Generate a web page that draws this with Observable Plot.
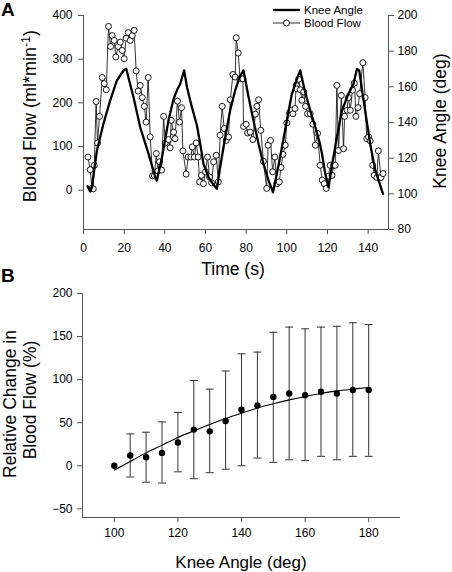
<!DOCTYPE html>
<html><head><meta charset="utf-8">
<script src="https://cdn.jsdelivr.net/npm/d3@7"></script>
<script src="https://cdn.jsdelivr.net/npm/@observablehq/plot@0.6"></script>
<style>
body{margin:0;background:#fff;}
#fig{position:relative;width:452px;height:572px;overflow:hidden;font-family:"Liberation Sans",Arial,sans-serif;color:#000;background:#fff;}
#fig svg{position:absolute;left:0;overflow:visible;}
.t{position:absolute;white-space:nowrap;line-height:1;transform:translate(-50%,-50%);}
.r{transform:translate(-50%,-50%) rotate(-90deg);}
.pl{position:absolute;font-weight:bold;font-size:19px;line-height:1.1;}
</style>
</head><body><div id="fig"></div>
<script>
// ---------- Panel A data ----------
const flowTime = [2.2,3.3,4.1,4.8,5.3,6.2,6.9,7.9,9.2,10.2,11.2,12.3,13.3,14.1,15.1,15.9,17.1,18.1,19.0,20.0,21.0,22.0,23.0,24.0,24.9,25.9,26.9,27.9,28.9,29.9,30.8,31.8,32.8,34.0,34.9,35.8,36.6,37.4,38.4,39.4,40.2,41.8,42.6,43.1,44.3,45.0,46.2,47.2,48.2,48.9,50.5,51.5,52.8,53.5,54.5,55.4,56.4,57.1,58.0,59.0,60.0,61.0,62.0,63.0,64.0,65.3,66.3,67.2,68.2,69.2,70.2,71.3,72.2,73.5,74.6,75.1,76.1,77.0,78.4,78.7,80.0,80.7,82.0,83.3,84.5,85.3,86.1,87.2,88.5,90.1,90.8,92.0,93.0,94.1,95.1,96.3,97.1,98.1,99.2,100.0,101.3,102.2,103.0,104.0,104.6,105.0,105.8,106.6,107.4,108.3,109.2,110.2,111.5,112.8,114.0,115.1,116.4,117.4,118.4,119.4,120.5,121.3,122.2,123.0,123.8,124.6,125.4,126.8,127.9,128.4,129.6,130.3,131.2,132.3,133.2,134.0,135.0,135.8,137.4,138.5,139.3,140.2,141.0,142.2,143.0,144.3,145.0,146.3,147.3];
const flowValue = [76,47,4,3,57,203,108,169,258,244,230,375,329,354,343,305,329,339,320,301,348,361,343,354,366,273,227,240,212,192,156,258,122,33,33,84,44,65,46,169,108,116,97,160,133,118,204,156,189,90,37,76,76,99,76,108,76,19,34,15,42,76,30,17,65,80,19,126,192,141,114,122,207,265,259,349,314,255,255,146,151,131,133,116,174,192,207,137,66,4,103,114,42,76,15,19,52,82,103,154,177,183,175,187,240,232,254,230,206,225,192,175,175,151,103,130,57,23,15,4,32,57,34,57,57,240,91,217,95,169,183,212,183,229,245,169,189,221,292,212,118,122,113,57,34,29,90,29,38];
const kneeTime = [2.0,3.3,4.1,6.6,9.8,13.1,16.4,19.7,21.0,24.6,27.9,32.0,35.3,36.1,38.6,41.8,44.3,45.9,47.6,49.5,50.9,53.3,55.8,57.4,59.0,61.5,63.6,65.6,67.2,69.7,72.1,74.6,76.7,78.7,81.2,83.6,86.1,88.5,91.0,93.2,95.1,97.6,100.0,102.5,105.0,106.6,109.0,111.5,114.0,116.1,117.3,118.9,120.5,122.2,124.6,127.1,130.3,132.8,134.5,135.6,138.5,141.0,143.5,147.3];
const kneeAngle = [104.3,101.3,103.7,124.3,139.3,152.3,163.5,169.2,170.1,154.2,137.3,122.4,109.3,107.5,120.5,141.1,153.3,157.9,161.7,169.2,159.8,148.6,138.3,128.0,116.8,109.3,105.6,102.8,114.9,131.7,146.7,157.9,165.4,169.2,154.2,141.1,128.0,116.8,107.5,100.9,111.2,126.1,141.1,156.1,164.5,169.2,157.0,146.7,137.4,128.9,122.4,111.2,103.7,115.9,131.7,146.7,156.1,161.7,170.1,169.2,146.7,128.0,113.1,100.0];
const timeTicks = [0,20,40,60,80,100,120,140];
const flowTicks = [0,100,200,300,400];
const angleTicks = [80,100,120,140,160,180,200];

// ---------- Panel B data ----------
const kneeAngleB = [100,105,110,115,120,125,130,135,140,145,150,155,160,165,170,175,180];
const relMean = [0,12,10,15,27,42,40,52,65,70,80,84,82,86,84,88,88];
const relLow = [null,-13,-19,-20,-7,-15,-8,-4,0,9,4,7,6,11,7,11,11];
const relHigh = [null,37,39,51,62,99,89,110,130,132,155,161,159,161,162,166,164];
const fitAngle = [100,105,110,115,120,125,130,135,140,145,150,155,160,165,170,175,180];
const fitValue = [-5,5,15,24,33,40.5,48,55,61,67,72,76.5,80.5,84,87,89,91];
const angleTicksB = [100,120,140,160,180];
const relTicks = [-50,0,50,100,150,200];

// ---------- build ----------
const fig = document.getElementById("fig");
const axisCol = "#555";
const font = '"Liberation Sans", Arial, sans-serif';
const baseStyle = {fontFamily: font, fontSize: "12px", background: "transparent", color: "#000", overflow: "visible"};

const flow = flowTime.map((t, i) => ({t, v: flowValue[i]}));
const knee = kneeTime.map((t, i) => ({t, a: kneeAngle[i]}));
const relB = kneeAngleB.map((a, i) => ({a, m: relMean[i], lo: relLow[i], hi: relHigh[i]}));
const errB = relB.filter(d => d.lo != null);
const fit = fitAngle.map((a, i) => ({a, v: fitValue[i]}));

const dimsA = {width: 452, height: 280, marginLeft: 83, marginRight: 64, marginTop: 15, marginBottom: 51};

const A1 = Plot.plot({
  ...dimsA, style: baseStyle,
  x: {domain: [0, 150]},
  y: {domain: [-90, 400]},
  marks: [
    Plot.axisX({ticks: timeTicks, tickSize: 5, tickPadding: 9, stroke: axisCol, label: null}),
    Plot.axisY({ticks: flowTicks, tickSize: 5, tickPadding: 6, stroke: axisCol, label: null}),
    Plot.ruleX([0], {stroke: axisCol}),
    Plot.ruleY([-90], {stroke: axisCol}),
    Plot.line(flow, {x: "t", y: "v", stroke: "#000", strokeWidth: 0.8}),
    Plot.dot(flow, {x: "t", y: "v", r: 3, fill: "#fff", stroke: "#000", strokeWidth: 0.9})
  ]
});
const A2 = Plot.plot({
  ...dimsA, style: baseStyle,
  x: {domain: [0, 150], axis: null},
  y: {domain: [80, 200]},
  marks: [
    Plot.axisY({anchor: "right", ticks: angleTicks, tickSize: 5, tickPadding: 4, stroke: axisCol, label: null}),
    Plot.ruleX([150], {stroke: axisCol}),
    Plot.line(knee, {x: "t", y: "a", stroke: "#000", strokeWidth: 2.3, strokeLinejoin: "round"})
  ]
});

const cap = {draw(ctx, size) { const r = Math.sqrt(size / Math.PI); ctx.moveTo(-r, 0); ctx.lineTo(r, 0); }};

const B = Plot.plot({
  width: 452, height: 292, marginLeft: 82, marginRight: 52, marginTop: 13, marginBottom: 55,
  style: baseStyle,
  x: {domain: [90, 190]},
  y: {domain: [-60, 200]},
  marks: [
    Plot.axisX({ticks: angleTicksB, tickSize: 5, tickPadding: 6, stroke: axisCol, label: null}),
    Plot.axisY({ticks: relTicks, tickSize: 5, tickPadding: 5, stroke: axisCol, label: null}),
    Plot.ruleX([90], {stroke: axisCol}),
    Plot.ruleY([-60], {stroke: axisCol}),
    Plot.ruleX(errB, {x: "a", y1: "lo", y2: "hi", stroke: "#333", strokeWidth: 1}),
    Plot.dot(errB, {x: "a", y: "hi", symbol: cap, r: 4, fill: "none", stroke: "#333", strokeWidth: 1}),
    Plot.dot(errB, {x: "a", y: "lo", symbol: cap, r: 4, fill: "none", stroke: "#333", strokeWidth: 1}),
    Plot.line(fit, {x: "a", y: "v", stroke: "#000", strokeWidth: 1.1, curve: "natural"}),
    Plot.dot(relB, {x: "a", y: "m", r: 3.2, fill: "#000", stroke: "none"})
  ]
});

A1.style.top = "0px"; A2.style.top = "0px"; B.style.top = "280px";
fig.appendChild(A1); fig.appendChild(A2); fig.appendChild(B);

// legend (panel A)
const ns = "http://www.w3.org/2000/svg";
const leg = document.createElementNS(ns, "svg");
leg.setAttribute("width", 120); leg.setAttribute("height", 32);
leg.style.left = "268px"; leg.style.top = "0px";
leg.innerHTML =
  '<line x1="5" y1="10" x2="32" y2="10" stroke="#000" stroke-width="2.3"/>' +
  '<text x="36" y="10" dy="0.35em" font-family=\'' + font + '\' font-size="11.5">Knee Angle</text>' +
  '<line x1="5" y1="23" x2="32" y2="23" stroke="#000" stroke-width="0.8"/>' +
  '<circle cx="18.5" cy="23" r="3" fill="#fff" stroke="#000" stroke-width="0.9"/>' +
  '<text x="36" y="23" dy="0.35em" font-family=\'' + font + '\' font-size="11.5">Blood Flow</text>';
fig.appendChild(leg);

function label(html, x, y, size, rot) {
  const d = document.createElement("div");
  d.className = "t" + (rot ? " r" : "");
  d.style.left = x + "px"; d.style.top = y + "px"; d.style.fontSize = size + "px";
  d.innerHTML = html;
  fig.appendChild(d);
}
function panel(txt, x, y) {
  const d = document.createElement("div");
  d.className = "pl"; d.style.left = x + "px"; d.style.top = y + "px"; d.textContent = txt;
  fig.appendChild(d);
}
panel("A", 1, 0);
panel("B", 1, 266);
label('Blood Flow (ml*min<sup style="font-size:0.7em;vertical-align:0.45em;line-height:0">-1</sup>)', 30, 116, 18, true);
label("Knee Angle (deg)", 441, 121, 17.5, true);
label("Time (s)", 233, 270, 17.5, false);
label("Relative Change in", 11, 404, 17.5, true);
label("Blood Flow (%)", 31, 400, 17.5, true);
label("Knee Angle (deg)", 241, 562, 17, false);
</script>
</body></html>
